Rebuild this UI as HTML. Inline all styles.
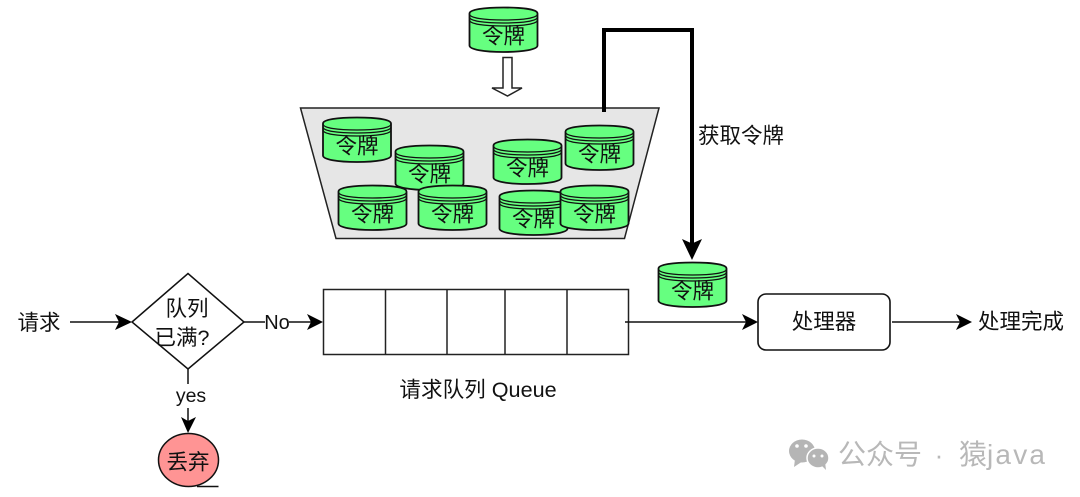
<!DOCTYPE html>
<html><head><meta charset="utf-8"><style>
html,body{margin:0;padding:0;background:#fff;width:1080px;height:497px;overflow:hidden}
svg{display:block}
text{font-family:"Liberation Sans","Noto Sans CJK SC",sans-serif;fill:#111;font-size:21.5px;text-anchor:middle}
</style></head><body>
<svg width="1080" height="497" viewBox="0 0 1080 497" xmlns="http://www.w3.org/2000/svg">
<defs>
<g id="cyl">
<path d="M0.500 6.500 C0.500 2.500 15 0.500 34.500 0.500 C54 0.500 68.500 2.500 68.500 6.500 V38.500 C68.500 42.500 54 45 34.500 45 C15 45 0.500 42.500 0.500 38.500 Z" fill="#66ff80" stroke="#111" stroke-width="1.800"/>
<path d="M0.500 7 C0.500 11 15 13 34.500 13 C54 13 68.500 11 68.500 7 M0.500 10 C0.500 14 15 16 34.500 16 C54 16 68.500 14 68.500 10 M0.500 13 C0.500 17 15 19 34.500 19 C54 19 68.500 17 68.500 13" fill="none" stroke="#111" stroke-width="1.300"/>
<text x="34.500" y="36.500">令牌</text>
</g>
</defs>
<use href="#cyl" x="469" y="7"/>
<path d="M503 57.500H512V88H522L507.500 96L492 88H503Z" fill="#fff" stroke="#222" stroke-width="1.500"/>
<path d="M300.500 108H659L624.500 238.500H336Z" fill="#e6e6e6" stroke="#222" stroke-width="1.500"/>
<use href="#cyl" x="322.500" y="117"/>
<use href="#cyl" x="395" y="145"/>
<use href="#cyl" x="338" y="185"/>
<use href="#cyl" x="418" y="185"/>
<use href="#cyl" x="493" y="139"/>
<use href="#cyl" x="565" y="125"/>
<use href="#cyl" x="499" y="190"/>
<use href="#cyl" x="560" y="185"/>
<path d="M604 112V30H692V244" fill="none" stroke="#000" stroke-width="4"/>
<path d="M692 260L682 239L692 243.500L702 239Z" fill="#000"/>
<text x="741" y="143">获取令牌</text>
<use href="#cyl" x="658" y="262"/>

<text x="39" y="330">请求</text>
<path d="M70 322H125" stroke="#111" stroke-width="1.500"/>
<path d="M132 322L115 314L119 322L115 330Z" fill="#000"/>
<path d="M132 322L188 273.500L244 322L188 369Z" fill="#fff" stroke="#111" stroke-width="1.500"/>
<text x="187" y="316">队列</text>
<text x="182" y="345">已满?</text>
<path d="M244 322H265M289 322H316" stroke="#111" stroke-width="1.500"/>
<text x="277" y="329" style="font-size:20px">No</text>
<path d="M323 322L307 314L311 322L307 330Z" fill="#000"/>
<path d="M188 369V384M188 408V426" stroke="#111" stroke-width="1.500"/>
<text x="191" y="402" style="font-size:19.500px">yes</text>
<path d="M188 433L181 417L188 421L196 417Z" fill="#000"/>
<ellipse cx="188.500" cy="460" rx="30" ry="26.500" fill="#ff9494" stroke="#111" stroke-width="1.500"/>
<path d="M197 486.500H218.500" stroke="#111" stroke-width="1.500"/>
<text x="188" y="469.500">丢弃</text>

<rect x="323.500" y="289.500" width="305" height="65" fill="#fff" stroke="#222" stroke-width="1.500"/>
<path d="M385.500 289.500V354.500M447 289.500V354.500M505 289.500V354.500M567 289.500V354.500" stroke="#222" stroke-width="1.500"/>
<text x="478" y="397" style="font-size:21.600px">请求队列 Queue</text>

<path d="M625 322H750" stroke="#111" stroke-width="1.500"/>
<path d="M758 322L742 314L746 322L742 330Z" fill="#000"/>
<rect x="758" y="294" width="132" height="56" rx="8" fill="#fff" stroke="#111" stroke-width="1.600"/>
<text x="824" y="329">处理器</text>
<path d="M892 322H965" stroke="#111" stroke-width="1.500"/>
<path d="M972 322L956 314L960 322L956 330Z" fill="#000"/>
<text x="1021" y="329">处理完成</text>

<g fill="#b5b5b5">
<ellipse cx="802" cy="451" rx="13" ry="11.500"/>
<path d="M795 459L794 467L803 461Z"/>
<ellipse cx="818" cy="458" rx="11" ry="10" stroke="#fff" stroke-width="1.500"/>
<path d="M822 466L826 470L825 462Z"/>
</g>
<g fill="#fff"><circle cx="797" cy="446" r="1.800"/><circle cx="806" cy="446" r="1.800"/><circle cx="814" cy="456" r="1.500"/><circle cx="822" cy="456" r="1.500"/></g>
<text x="838" y="464" style="font-size:28px;fill:#b8b8b8;text-anchor:start">公众号</text>
<text x="939" y="464" style="font-size:26px;fill:#b8b8b8">·</text>
<text x="959" y="464" style="font-size:28px;fill:#b8b8b8;text-anchor:start">猿<tspan style="letter-spacing:2.200px">java</tspan></text>
</svg>
</body></html>
